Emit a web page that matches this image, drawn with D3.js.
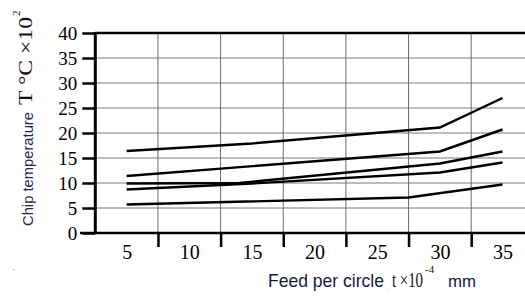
<!DOCTYPE html>
<html>
<head>
<meta charset="utf-8">
<script src="https://cdn.jsdelivr.net/npm/d3@7"></script>
<style>
  body { margin: 0; background: #fff; }
  svg { display: block; }
</style>
</head>
<body>
<svg width="525" height="307"></svg>
<script>
// feed per circle (x 10^-4 mm) and chip temperature (x 10^2 C)
var line1X = [5, 15, 30, 35];
var line1Y = [16.4, 17.9, 21.1, 27.0];
var line2X = [5, 30, 35];
var line2Y = [11.4, 16.3, 20.7];
var line3X = [5, 14, 30, 35];
var line3Y = [9.9, 10.0, 13.9, 16.3];
var line4X = [5, 15, 30, 35];
var line4Y = [8.7, 9.9, 12.1, 14.1];
var line5X = [5, 27.5, 35];
var line5Y = [5.7, 7.1, 9.7];

var xLabels = [5, 10, 15, 20, 25, 30, 35];
var xGrid = [7.5, 12.5, 17.5, 22.5, 27.5, 32.5];
var yTicks = [0, 5, 10, 15, 20, 25, 30, 35, 40];

var series = [
  [line1X, line1Y],
  [line2X, line2Y],
  [line3X, line3Y],
  [line4X, line4Y],
  [line5X, line5Y]
];

var svg = d3.select("svg");
var plotLeft = 95.3, plotTop = 33, plotBottom = 233, step = 62.65;

var x = d3.scaleLinear().domain([2.5, 37.5]).range([plotLeft, plotLeft + 7 * step]);
var y = d3.scaleLinear().domain([0, 40]).range([plotBottom, plotTop]);

var serif = "Liberation Serif, Times New Roman, serif";
var sans = "Liberation Sans, Arial, sans-serif";

// grid
svg.append("g")
  .selectAll("line")
  .data(yTicks.filter(function (d) { return d > 0 && d < 40; }))
  .enter().append("line")
  .attr("x1", plotLeft).attr("x2", 525)
  .attr("y1", function (d) { return y(d); })
  .attr("y2", function (d) { return y(d); })
  .attr("stroke", "#7a7a7a").attr("stroke-width", 1);

svg.append("g")
  .selectAll("line")
  .data(xGrid)
  .enter().append("line")
  .attr("x1", function (d) { return x(d); })
  .attr("x2", function (d) { return x(d); })
  .attr("y1", plotTop).attr("y2", plotBottom)
  .attr("stroke", "#6a6a6a").attr("stroke-width", 1);

// data lines
var line = d3.line()
  .x(function (d) { return x(d[0]); })
  .y(function (d) { return y(d[1]); });

svg.append("g")
  .selectAll("path")
  .data(series)
  .enter().append("path")
  .attr("d", function (s) { return line(d3.zip(s[0], s[1])); })
  .attr("fill", "none")
  .attr("stroke", "#000")
  .attr("stroke-width", 2.4);

// y axis
var yAxis = svg.append("g")
  .attr("transform", "translate(" + plotLeft + ",0)")
  .call(d3.axisLeft(y).tickValues(yTicks).tickSize(13).tickPadding(5))
  .attr("font-family", serif)
  .attr("font-size", 19);
yAxis.select(".domain").remove();
yAxis.selectAll(".tick line").attr("stroke", "#000").attr("stroke-width", 2.5);
yAxis.selectAll("text").attr("fill", "#000");

svg.append("line")
  .attr("x1", plotLeft).attr("x2", plotLeft)
  .attr("y1", plotTop - 1).attr("y2", plotBottom + 1)
  .attr("stroke", "#000").attr("stroke-width", 3);

// top border
svg.append("line")
  .attr("x1", plotLeft).attr("x2", 525)
  .attr("y1", plotTop).attr("y2", plotTop)
  .attr("stroke", "#000").attr("stroke-width", 2.5);

// x axis
var xTickAxis = svg.append("g")
  .attr("transform", "translate(0," + plotBottom + ")")
  .call(d3.axisBottom(x).tickValues(xGrid).tickSize(14).tickFormat(""));
xTickAxis.select(".domain").remove();
xTickAxis.selectAll(".tick line").attr("stroke", "#000").attr("stroke-width", 2.5);

var xLabelAxis = svg.append("g")
  .attr("transform", "translate(0," + plotBottom + ")")
  .call(d3.axisBottom(x).tickValues(xLabels).tickSize(0).tickPadding(12))
  .attr("font-family", serif)
  .attr("font-size", 20);
xLabelAxis.select(".domain").remove();
xLabelAxis.selectAll("text").attr("fill", "#000");

svg.append("line")
  .attr("x1", 80).attr("x2", 525)
  .attr("y1", plotBottom).attr("y2", plotBottom)
  .attr("stroke", "#000").attr("stroke-width", 2.5);

// y title
svg.append("text")
  .attr("transform", "translate(33,226) rotate(-90)")
  .attr("textLength", 114).attr("lengthAdjust", "spacingAndGlyphs")
  .attr("font-family", sans).attr("font-size", 15.5)
  .attr("fill", "#1c2450")
  .text("Chip temperature");

svg.append("text")
  .attr("transform", "translate(32,105) rotate(-90)")
  .attr("textLength", 88).attr("lengthAdjust", "spacingAndGlyphs")
  .attr("font-family", serif).attr("font-size", 18)
  .attr("fill", "#111")
  .text("T °C  ×10");

svg.append("text")
  .attr("transform", "translate(20,16) rotate(-90)")
  .attr("font-family", serif).attr("font-size", 11)
  .attr("fill", "#111")
  .text("2");

// x title
svg.append("text")
  .attr("x", 268).attr("y", 287)
  .attr("textLength", 116).attr("lengthAdjust", "spacingAndGlyphs")
  .attr("font-family", sans).attr("font-size", 19)
  .attr("fill", "#141a3c")
  .text("Feed per circle");

svg.append("text")
  .attr("x", 386).attr("y", 289)
  .attr("font-family", sans).attr("font-size", 6)
  .attr("fill", "#999")
  .text(",");

svg.append("text")
  .attr("x", 392).attr("y", 287)
  .attr("textLength", 31).attr("lengthAdjust", "spacingAndGlyphs")
  .attr("font-family", serif).attr("font-size", 20)
  .attr("fill", "#111")
  .text("t ×10");

svg.append("text")
  .attr("x", 425).attr("y", 273)
  .attr("font-family", serif).attr("font-size", 11)
  .attr("fill", "#111")
  .text("-4");

svg.append("text")
  .attr("x", 448).attr("y", 287)
  .attr("textLength", 28).attr("lengthAdjust", "spacingAndGlyphs")
  .attr("font-family", sans).attr("font-size", 17)
  .attr("fill", "#141a3c")
  .text("mm");

// stray mark
svg.append("text")
  .attr("x", 12).attr("y", 272)
  .attr("font-family", sans).attr("font-size", 9)
  .attr("fill", "#aaa")
  .text("-");
</script>
</body>
</html>
